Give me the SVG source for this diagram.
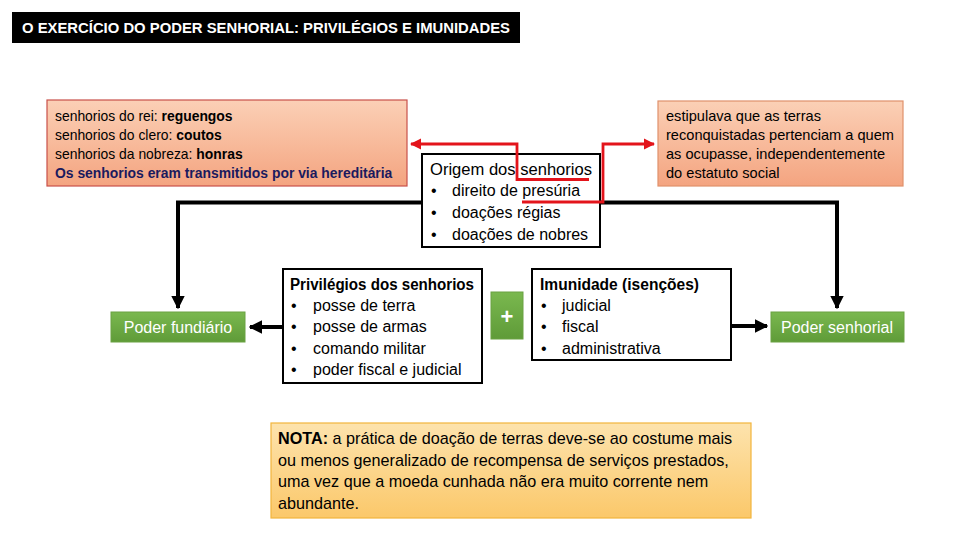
<svg xmlns="http://www.w3.org/2000/svg" width="960" height="540" viewBox="0 0 960 540">
<defs>
<linearGradient id="peach" x1="0" y1="0" x2="0" y2="1"><stop offset="0" stop-color="#fbd0b6"/><stop offset="1" stop-color="#f4a480"/></linearGradient>
<linearGradient id="green" x1="0" y1="0" x2="0" y2="1"><stop offset="0" stop-color="#7ab84f"/><stop offset="1" stop-color="#5f9b38"/></linearGradient>
<linearGradient id="gold" x1="0" y1="0" x2="0" y2="1"><stop offset="0" stop-color="#fde3ad"/><stop offset="1" stop-color="#fbc86a"/></linearGradient>
<marker id="ab" viewBox="0 0 10 10" refX="9" refY="5" markerWidth="3.4" markerHeight="3.4" orient="auto" markerUnits="strokeWidth"><path d="M0,0 L10,5 L0,10 z" fill="#000"/></marker>
<marker id="ar" viewBox="0 0 10 10" refX="9" refY="5" markerWidth="4" markerHeight="4" orient="auto" markerUnits="strokeWidth"><path d="M0,0 L10,5 L0,10 z" fill="#e3141b"/></marker>
</defs>
<style>
text{font-family:"Liberation Sans",Arial,sans-serif;fill:#000}
.t13{font-size:13.9px}
.t14{font-size:14.6px}
.t16{font-size:16px}
.t15{font-size:16px}
.tn{font-size:16.2px}
.b{font-weight:bold}
.w{fill:#fff}
.navy{fill:#1a1a5e}
.bk{stroke:#000;stroke-width:4;fill:none}
.rd{stroke:#e3141b;stroke-width:2.8;fill:none}
.box{fill:#fff;stroke:#000;stroke-width:2}
.grn{fill:url(#green);stroke:#6aa243;stroke-width:1}
</style>
<rect width="960" height="540" fill="#fff"/>
<g id="title">
<rect x="12" y="12" width="508" height="31" fill="#000"/>
<text x="22" y="33" class="b w" font-size="14.5" textLength="488" lengthAdjust="spacingAndGlyphs">O EXERCÍCIO DO PODER SENHORIAL: PRIVILÉGIOS E IMUNIDADES</text>
</g>
<g id="connectors">
<path class="bk" d="M422,202.5 H178 V308" marker-end="url(#ab)"/>
<path class="bk" d="M600,202.5 H837 V308" marker-end="url(#ab)"/>
<path class="bk" d="M283,327 H250" marker-end="url(#ab)"/>
<path class="bk" d="M731,326 H767" marker-end="url(#ab)"/>
</g>
<g id="reguengos">
<rect x="47" y="100" width="360" height="86" fill="url(#peach)" stroke="#c8504a" stroke-width="1.2"/>
<text class="t13" x="55" y="121">senhorios do rei: <tspan class="b">reguengos</tspan></text>
<text class="t13" x="55" y="140">senhorios do clero: <tspan class="b">coutos</tspan></text>
<text class="t13" x="55" y="159">senhorios da nobreza: <tspan class="b">honras</tspan></text>
<text class="t13 b navy" x="55" y="178">Os senhorios eram transmitidos por via hereditária</text>
</g>
<g id="presuria">
<rect x="658" y="101" width="245" height="85" fill="url(#peach)" stroke="#e0916c" stroke-width="1.2"/>
<text class="t14" x="666" y="121">estipulava que as terras</text>
<text class="t14" x="666" y="140">reconquistadas pertenciam a quem</text>
<text class="t14" x="666" y="159">as ocupasse, independentemente</text>
<text class="t14" x="666" y="178">do estatuto social</text>
</g>
<g id="origem">
<rect class="box" x="422" y="154" width="178" height="93"/>
<text class="t16" x="430" y="175" textLength="162" lengthAdjust="spacingAndGlyphs">Origem dos senhorios</text>
<text class="t16" x="431" y="196">•</text><text class="t16" x="452" y="196">direito de presúria</text>
<text class="t16" x="431" y="218">•</text><text class="t16" x="452" y="218">doações régias</text>
<text class="t16" x="431" y="240">•</text><text class="t16" x="452" y="240">doações de nobres</text>
</g>
<g id="red-connectors">
<path class="rd" d="M589,179.5 H517 V144 H411" marker-end="url(#ar)"/>
<path class="rd" d="M522,202 H603 V144 H654" marker-end="url(#ar)"/>
</g>
<g id="fundiario">
<rect class="grn" x="111" y="312" width="134" height="30"/>
<text class="t15 w" x="178" y="333" text-anchor="middle">Poder fundiário</text>
</g>
<g id="privilegios">
<rect class="box" x="283" y="269" width="199" height="114"/>
<text class="t16 b" x="290" y="290" textLength="184" lengthAdjust="spacingAndGlyphs">Privilégios dos senhorios</text>
<text class="t16" x="291" y="311">•</text><text class="t16" x="313" y="311">posse de terra</text>
<text class="t16" x="291" y="332">•</text><text class="t16" x="313" y="332">posse de armas</text>
<text class="t16" x="291" y="354">•</text><text class="t16" x="313" y="354">comando militar</text>
<text class="t16" x="291" y="375">•</text><text class="t16" x="313" y="375">poder fiscal e judicial</text>
</g>
<g id="plus">
<rect class="grn" x="491" y="292" width="32" height="47"/>
<text x="507" y="324" text-anchor="middle" class="b w" font-size="22">+</text>
</g>
<g id="imunidade">
<rect class="box" x="532" y="269" width="199" height="91"/>
<text class="t16 b" x="540" y="290" textLength="159" lengthAdjust="spacingAndGlyphs">Imunidade (isenções)</text>
<text class="t16" x="541" y="311">•</text><text class="t16" x="562" y="311">judicial</text>
<text class="t16" x="541" y="332">•</text><text class="t16" x="562" y="332">fiscal</text>
<text class="t16" x="541" y="354">•</text><text class="t16" x="562" y="354">administrativa</text>
</g>
<g id="senhorial">
<rect class="grn" x="771" y="312" width="133" height="30"/>
<text class="t15 w" x="837" y="333" text-anchor="middle">Poder senhorial</text>
</g>
<g id="nota">
<rect x="271" y="423" width="480" height="95" fill="url(#gold)" stroke="#f2b53c" stroke-width="1.2"/>
<text class="tn" x="278" y="444"><tspan class="b">NOTA:</tspan> a prática de doação de terras deve-se ao costume mais</text>
<text class="tn" x="278" y="466">ou menos generalizado de recompensa de serviços prestados,</text>
<text class="tn" x="278" y="487">uma vez que a moeda cunhada não era muito corrente nem</text>
<text class="tn" x="278" y="509">abundante.</text>
</g>
</svg>
